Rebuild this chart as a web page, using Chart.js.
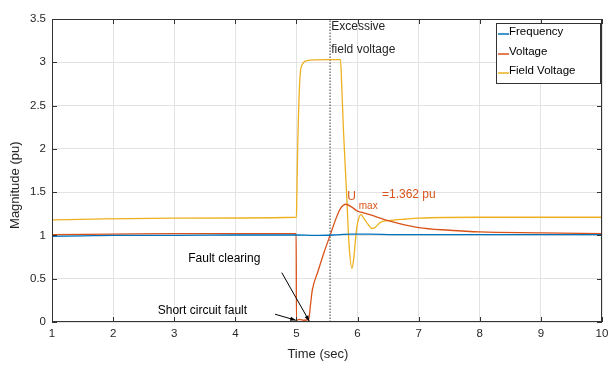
<!DOCTYPE html>
<html>
<head>
<meta charset="utf-8">
<script src="https://cdn.jsdelivr.net/npm/chart.js@4"></script>
<style>
  html, body { margin: 0; padding: 0; background: #fff; }
  #wrap { width: 608px; height: 365px; }
</style>
</head>
<body>
<div id="wrap"><canvas id="c" width="608" height="365"></canvas></div>
<script>
// time (sec) and magnitude (pu)
const freqT = [1, 1.5, 2, 3, 4, 5, 5.3, 5.6, 5.9, 6.2, 6.6, 7, 8, 9, 10]
const freqV = [0.99, 0.995, 1.0, 1.0, 1.005, 1.005, 1.0, 1.005, 1.015, 1.015, 1.01, 1.01, 1.01, 1.01, 1.01]

const voltT = [1, 2, 3, 4, 4.995, 5.0, 5.05, 5.12, 5.2, 5.23, 5.26, 5.35, 5.45, 5.55, 5.65, 5.72, 5.81, 5.9, 6.0, 6.05, 6.2, 6.5, 7, 7.5, 8, 9, 10]
const voltV = [1.01, 1.015, 1.02, 1.02, 1.02, 0.02, 0.03, 0.02, 0.03, 0.2, 0.37, 0.58, 0.8, 1.0, 1.2, 1.31, 1.36, 1.33, 1.28, 1.27, 1.24, 1.17, 1.09, 1.06, 1.04, 1.03, 1.02]

const fieldT = [1, 3, 5, 5.005, 5.02, 5.06, 5.1, 5.17, 5.5, 5.72, 5.74, 5.77, 5.82, 5.86, 5.91, 5.94, 5.98, 6.03, 6.06, 6.1, 6.18, 6.24, 6.3, 6.37, 6.5, 6.8, 7, 8, 9, 10]
const fieldV = [1.18, 1.2, 1.21, 1.4, 2.0, 2.85, 2.98, 3.02, 3.03, 3.03, 2.75, 2.2, 1.5, 0.9, 0.62, 0.75, 1.05, 1.22, 1.24, 1.2, 1.12, 1.08, 1.1, 1.15, 1.17, 1.19, 1.2, 1.21, 1.21, 1.21]

const markerT = [5.55, 5.55]
const markerV = [0, 3.5]

const xTicks = [1, 2, 3, 4, 5, 6, 7, 8, 9, 10]
const yTicks = [0, 0.5, 1, 1.5, 2, 2.5, 3, 3.5]

const xTitle = 'Time (sec)'
const yTitle = 'Magnitude (pu)'

const notes = [
  { text: 'Excessive', t: 5.57, v: 3.41, color: '#262626', size: 12 },
  { text: 'field voltage', t: 5.57, v: 3.15, color: '#262626', size: 12 },
  { text: 'U', t: 5.83, v: 1.45, color: '#D95319', size: 12 },
  { text: 'max', t: 6.02, v: 1.34, color: '#D95319', size: 10 },
  { text: '=1.362 pu', t: 6.4, v: 1.47, color: '#D95319', size: 12 },
  { text: 'Fault clearing', t: 3.23, v: 0.73, color: '#000', size: 12 },
  { text: 'Short circuit fault', t: 2.73, v: 0.13, color: '#000', size: 12 },
]
const arrows = [
  { from: [4.65, 0.09], to: [4.99, 0.02] },
  { from: [4.76, 0.57], to: [5.21, 0.01] },
]

const pts = (ts, vs) => ts.map((t, i) => ({ x: t, y: vs[i] }))
const FONT = "'Liberation Sans', Arial, sans-serif"

const frame = {
  id: 'frame',
  afterDraw(chart) {
    const { ctx, chartArea: a, scales: { x, y } } = chart
    ctx.save()
    ctx.strokeStyle = '#333'
    ctx.lineWidth = 1
    ctx.strokeRect(a.left + 0.5, a.top + 0.5, a.right - a.left - 1, a.bottom - a.top - 1)
    ctx.beginPath()
    xTicks.forEach(t => {
      const px = Math.round(x.getPixelForValue(t)) + 0.5
      ctx.moveTo(px, a.bottom); ctx.lineTo(px, a.bottom - 5)
      ctx.moveTo(px, a.top); ctx.lineTo(px, a.top + 5)
    })
    yTicks.forEach(v => {
      const py = Math.round(y.getPixelForValue(v)) + 0.5
      ctx.moveTo(a.left, py); ctx.lineTo(a.left + 5, py)
      ctx.moveTo(a.right, py); ctx.lineTo(a.right - 5, py)
    })
    ctx.stroke()

    // axis titles (sit a little off-centre in the original)
    ctx.fillStyle = '#262626'
    ctx.font = '13px ' + FONT
    ctx.textAlign = 'center'
    ctx.textBaseline = 'middle'
    ctx.fillText(xTitle, x.getPixelForValue(5.35), chart.height - 11)
    ctx.save()
    ctx.translate(15, y.getPixelForValue(1.58))
    ctx.rotate(-Math.PI / 2)
    ctx.fillText(yTitle, 0, 0)
    ctx.restore()

    // annotations
    ctx.textAlign = 'left'
    notes.forEach(n => {
      ctx.fillStyle = n.color
      ctx.font = n.size + 'px ' + FONT
      ctx.fillText(n.text, x.getPixelForValue(n.t), y.getPixelForValue(n.v))
    })
    ctx.strokeStyle = '#000'
    ctx.fillStyle = '#000'
    arrows.forEach(ar => {
      const x0 = x.getPixelForValue(ar.from[0]), y0 = y.getPixelForValue(ar.from[1])
      const x1 = x.getPixelForValue(ar.to[0]), y1 = y.getPixelForValue(ar.to[1])
      const ang = Math.atan2(y1 - y0, x1 - x0)
      ctx.beginPath(); ctx.moveTo(x0, y0); ctx.lineTo(x1, y1); ctx.stroke()
      ctx.beginPath()
      ctx.moveTo(x1, y1)
      ctx.lineTo(x1 - 6 * Math.cos(ang - 0.35), y1 - 6 * Math.sin(ang - 0.35))
      ctx.lineTo(x1 - 6 * Math.cos(ang + 0.35), y1 - 6 * Math.sin(ang + 0.35))
      ctx.closePath(); ctx.fill()
    })

    // legend box
    const lx = 496, ly = 23, lw = 104, lh = 60
    ctx.fillStyle = '#fff'
    ctx.fillRect(lx, ly, lw, lh)
    ctx.strokeStyle = '#333'
    ctx.lineWidth = 1
    ctx.strokeRect(lx + 0.5, ly + 0.5, lw, lh)
    ctx.font = '11.5px ' + FONT
    ctx.lineWidth = 1.5
    chart.data.datasets.filter(d => d.label).forEach((d, i) => {
      const cy = ly + 9 + i * 19.5
      ctx.strokeStyle = d.borderColor
      ctx.beginPath(); ctx.moveTo(lx + 2, Math.round(cy + 2)); ctx.lineTo(lx + 13, Math.round(cy + 2)); ctx.stroke()
      ctx.fillStyle = '#000'
      ctx.fillText(d.label, lx + 13, cy)
    })
    ctx.restore()
  }
}

new Chart(document.getElementById('c'), {
  type: 'line',
  data: {
    datasets: [
      { label: 'Frequency', data: pts(freqT, freqV), borderColor: '#0072BD', borderWidth: 1.3, pointRadius: 0, cubicInterpolationMode: 'monotone' },
      { label: 'Voltage', data: pts(voltT, voltV), borderColor: '#D95319', borderWidth: 1.3, pointRadius: 0, cubicInterpolationMode: 'monotone' },
      { label: 'Field Voltage', data: pts(fieldT, fieldV), borderColor: '#EDB120', borderWidth: 1.3, pointRadius: 0, cubicInterpolationMode: 'monotone' },
      { label: '', data: pts(markerT, markerV), borderColor: '#333', borderWidth: 1, borderDash: [1.5, 1.5], pointRadius: 0 },
    ],
  },
  options: {
    responsive: false,
    animation: false,
    layout: { padding: { top: 19, right: 6, left: 0, bottom: 0 } },
    plugins: { legend: { display: false }, tooltip: { enabled: false } },
    scales: {
      x: {
        type: 'linear', min: 1, max: 10,
        afterFit: s => { s.height = 43; s.paddingLeft = 0; s.paddingRight = 0 },
        afterBuildTicks: s => { s.ticks = xTicks.map(v => ({ value: v })) },
        grid: { color: '#e3e3e3', drawTicks: false },
        border: { display: false },
        ticks: { padding: 5, color: '#262626', font: { family: FONT, size: 11.5 }, maxRotation: 0 },
      },
      y: {
        min: 0, max: 3.5,
        afterFit: s => { s.width = 52; s.paddingTop = 0; s.paddingBottom = 0 },
        afterBuildTicks: s => { s.ticks = yTicks.map(v => ({ value: v })) },
        grid: { color: '#e3e3e3', drawTicks: false },
        border: { display: false },
        ticks: { padding: 6, color: '#262626', font: { family: FONT, size: 11.5 }, callback: v => String(v) },
      },
    },
  },
  plugins: [frame],
})
</script>
</body>
</html>
